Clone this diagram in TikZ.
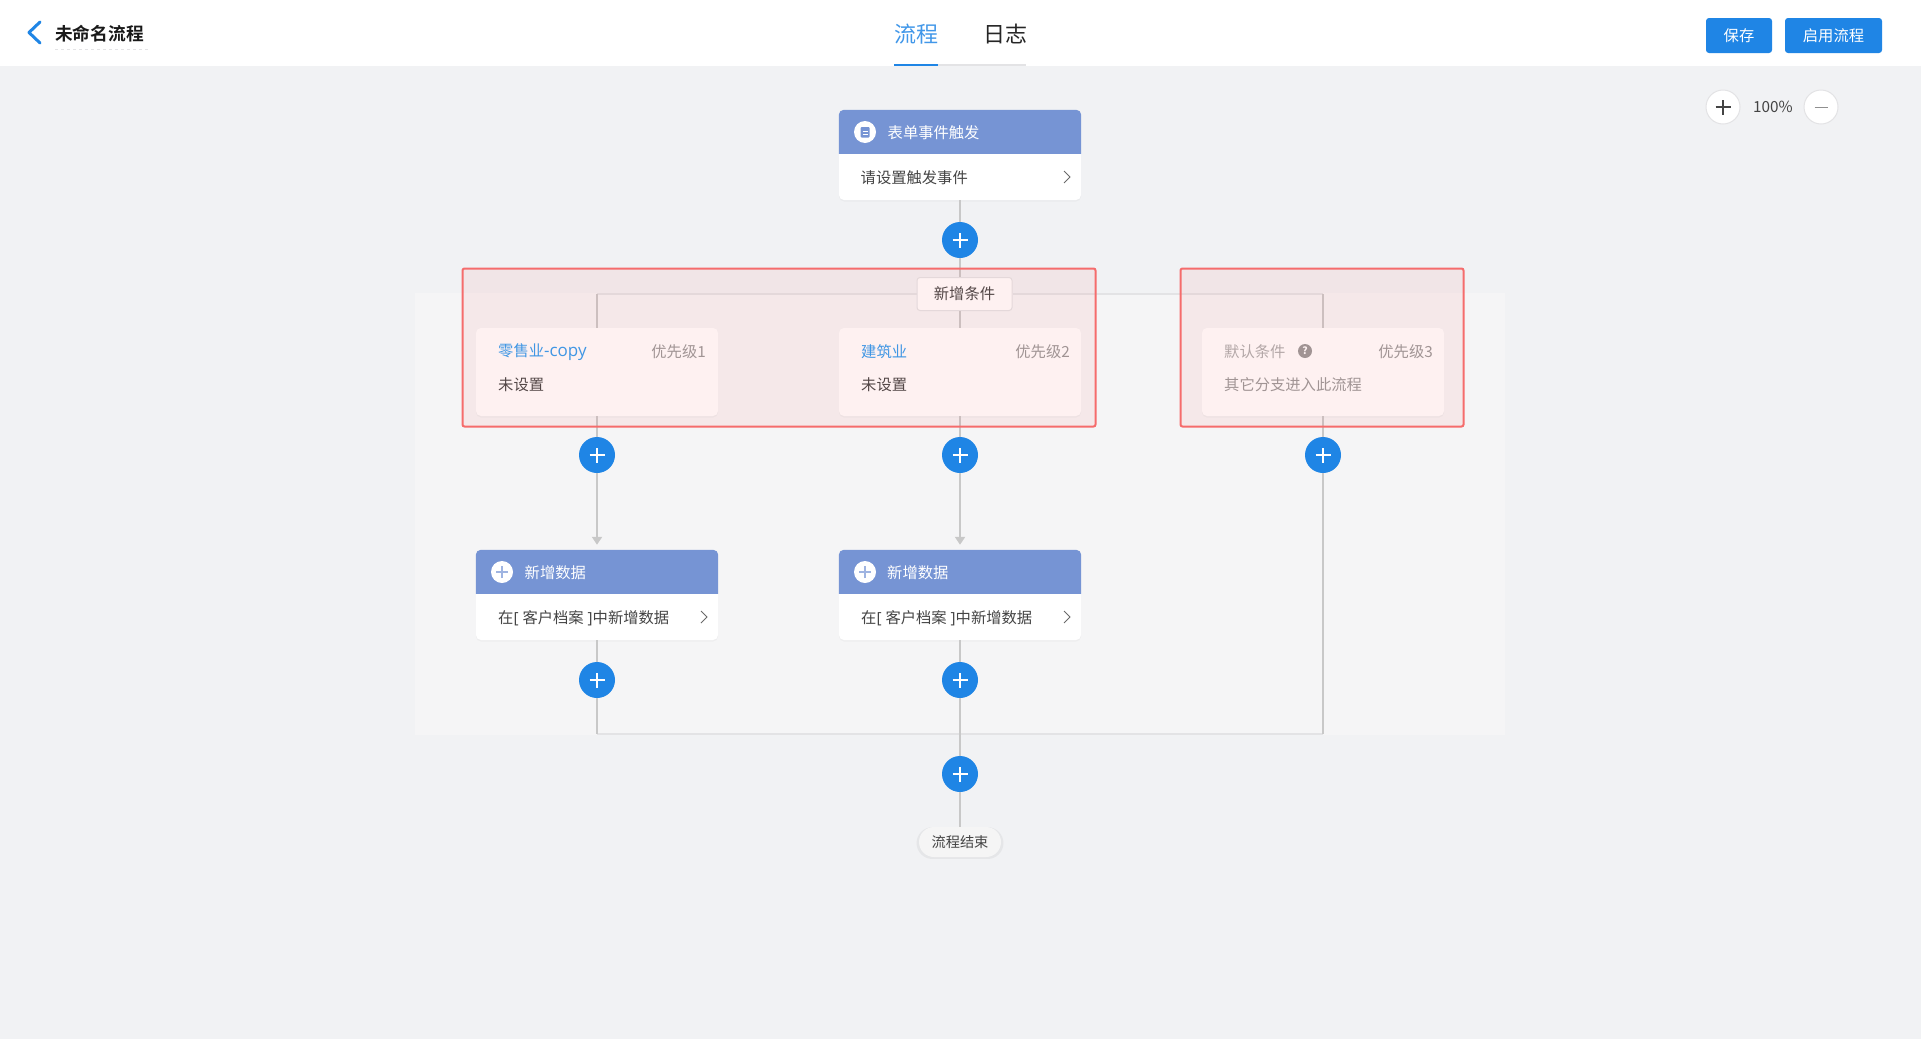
\documentclass[tikz,border=0pt]{standalone}
\usepackage{fontspec}
\setmainfont{Noto Sans CJK SC}
\newfontfamily\boldcjk[BoldFont={Noto Sans CJK SC Bold}]{Noto Sans CJK SC}
\newfontfamily\latinfont{Open Sans}
\usetikzlibrary{arrows.meta,shadows}
\definecolor{pagebg}{HTML}{F1F2F4}
\definecolor{panelbg}{HTML}{F5F5F6}
\definecolor{headblue}{HTML}{7694D4}
\definecolor{btnblue}{HTML}{1F85E5}
\definecolor{linkblue}{HTML}{2F9BF0}
\definecolor{linegray}{HTML}{C8C8C8}
\definecolor{lightline}{HTML}{E3E3E5}
\definecolor{warnred}{HTML}{F56C6C}
\definecolor{bodytext}{HTML}{444444}
\definecolor{greytext}{HTML}{999999}
\tikzset{
  smalltext/.style={font=\fontsize{15.3}{18}\selectfont,inner sep=0pt},
  flowline/.style={draw=linegray,line width=2pt},
  joinline/.style={draw=lightline,line width=2pt},
  actioncard/.style={fill=white,rounded corners=5pt,minimum width=242pt,minimum height=90pt,
    inner sep=0pt,drop shadow={opacity=0.06,shadow xshift=0pt,shadow yshift=-1.5pt}},
  condcard/.style={actioncard,minimum height=88pt},
  headtext/.style={smalltext,anchor=west,text=white},
  bodylabel/.style={smalltext,anchor=west,text=bodytext},
  greylabel/.style={smalltext,text=greytext},
  chevronline/.style={draw=bodytext!80,line width=1pt},
  crossmark/.style n args={3}{path picture={
    \draw[#1,line width=#3] ([xshift=-#2]path picture bounding box.center) -- ([xshift=#2]path picture bounding box.center);
    \draw[#1,line width=#3] ([yshift=-#2]path picture bounding box.center) -- ([yshift=#2]path picture bounding box.center);
  }},
  addbtn/.style={circle,fill=btnblue,minimum size=36pt,inner sep=0pt,crossmark={white}{7.5pt}{1.3pt}},
  headicon/.style={circle,fill=white,minimum size=22pt,inner sep=0pt},
  topbtn/.style={fill=btnblue,rounded corners=3pt,text=white,font=\fontsize{15.3}{18}\selectfont,
    minimum height=35pt,inner sep=0pt},
  zoomctl/.style={circle,fill=white,draw=lightline,line width=1pt,minimum size=34pt,inner sep=0pt},
  redmark/.style={draw=warnred,line width=2pt,fill=warnred,fill opacity=0.09,rounded corners=2pt,
    inner sep=0pt},
}
\begin{document}
\begin{tikzpicture}[x=1pt,y=-1pt]
  \useasboundingbox (0,0) rectangle (1921,1039);
  % page
  \fill[pagebg] (0,0) rectangle (1921,1039);
  \fill[white] (0,0) rectangle (1921,66);
  \fill[panelbg] (415,293) rectangle (1505,735);

  % top bar
  \draw[btnblue,line width=3pt,line cap=round,line join=round] (40,22) -- (29,32.5) -- (40,43);
  \node[anchor=west,inner sep=0pt,font=\fontsize{17.7}{20}\boldcjk\bfseries,text=black!90] (title) at (55,34) {未命名流程};
  \draw[lightline,line width=1pt,dashed] (55,49) -- (149,49);
  \node[inner sep=0pt,font=\fontsize{22}{26}\selectfont,text=btnblue!85!white] (tabflow) at (916,34) {流程};
  \node[inner sep=0pt,font=\fontsize{22}{26}\selectfont,text=black!85] (tablog) at (1005,34) {日志};
  \fill[lightline] (938,64) rectangle (1026,66);
  \fill[btnblue] (894,64) rectangle (938,66);
  \node[topbtn,minimum width=66pt] (savebtn) at (1739,35.5) {\raisebox{1pt}{保存}};
  \node[topbtn,minimum width=97pt] (startbtn) at (1833.5,35.5) {\raisebox{1pt}{启用流程}};
  \node[zoomctl,crossmark={bodytext}{7.5pt}{1.2pt}] (zoomin) at (1723,107) {};
  \node[inner sep=0pt,font=\fontsize{15.3}{18}\selectfont,text=bodytext] (zoomval) at (1773,107) {100\%};
  \node[zoomctl] (zoomout) at (1821,107) {};
  \draw[bodytext!60,line width=1pt] ([xshift=-6.5pt]zoomout.center) -- ([xshift=6.5pt]zoomout.center);

  % trigger
  \node[actioncard] (trigcard) at (960,155) {};
  \fill[headblue] (trigcard.north west) ++(0,44) [rounded corners=5pt] -- (trigcard.north west) -- (trigcard.north east) [sharp corners] -- ++(0,44) -- cycle;
  \node[headicon] (trigicon) at (865,132) {};
  \fill[headblue,rounded corners=1pt] (860.5,127) rectangle (869.5,137.5);
  \draw[white,line width=1pt] (862.5,131) -- (867.5,131) (862.5,134) -- (867.5,134);
  \node[headtext] (trighead) at (887.5,133) {表单事件触发};
  \node[bodylabel] (trigbody) at (860.5,177.5) {请设置触发事件};
  \draw[chevronline] (1064,171) -- (1070,177) -- (1064,183);
  \node[addbtn] (plustop) at (960,240) {};

  % branches
  \node[smalltext,fill=white,draw=lightline,line width=1pt,rounded corners=3pt,minimum width=95pt,minimum height=33pt,text=bodytext] (addcond) at (964.5,294) {新增条件};
  \node[condcard] (retail) at (597,372) {};
  \node[text=linkblue,smalltext,anchor=west] (retailname) at (498,352) {零售业{\latinfont\fontsize{17}{18}\selectfont -copy}};
  \node[greylabel,anchor=east] (retailprio) at (706,352) {优先级1};
  \node[bodylabel] (retailbody) at (498,385) {未设置};
  \node[condcard] (build) at (960,372) {};
  \node[text=linkblue,smalltext,anchor=west] (buildname) at (861,352) {建筑业};
  \node[greylabel,anchor=east] (buildprio) at (1070,352) {优先级2};
  \node[bodylabel] (buildbody) at (861,385) {未设置};
  \node[condcard] (default) at (1323,372) {};
  \node[greylabel,anchor=west,text=greytext!80] (defaultname) at (1224,352) {默认条件};
  \node[circle,fill=greytext,minimum size=14pt,inner sep=0pt,text=white,font=\fontsize{10}{10}\bfseries\selectfont] (defaulthelp) at (1305,351) {?};
  \node[greylabel,anchor=east] (defaultprio) at (1433,352) {优先级3};
  \node[greylabel,anchor=west] (defaultbody) at (1224,385) {其它分支进入此流程};
  \node[addbtn] (plusa) at (597,455) {};
  \node[addbtn] (plusb) at (960,455) {};
  \node[addbtn] (plusc) at (1323,455) {};

  % new data
  \node[actioncard] (newa) at (597,595) {};
  \fill[headblue] (newa.north west) ++(0,44) [rounded corners=5pt] -- (newa.north west) -- (newa.north east) [sharp corners] -- ++(0,44) -- cycle;
  \node[headicon,crossmark={headblue!70!white}{6pt}{1.2pt}] (newaicon) at (502,572) {};
  \node[headtext] (newahead) at (524.5,572.5) {新增数据};
  \node[bodylabel] (newabody) at (498,618) {在{\latinfont [ }客户档案{\latinfont \ ]}中新增数据};
  \draw[chevronline] (701,611) -- (707,617) -- (701,623);
  \node[actioncard] (newb) at (960,595) {};
  \fill[headblue] (newb.north west) ++(0,44) [rounded corners=5pt] -- (newb.north west) -- (newb.north east) [sharp corners] -- ++(0,44) -- cycle;
  \node[headicon,crossmark={headblue!70!white}{6pt}{1.2pt}] (newbicon) at (865,572) {};
  \node[headtext] (newbhead) at (887,572.5) {新增数据};
  \node[bodylabel] (newbbody) at (861,618) {在{\latinfont [ }客户档案{\latinfont \ ]}中新增数据};
  \draw[chevronline] (1064,611) -- (1070,617) -- (1064,623);
  \node[addbtn] (plusd) at (597,680) {};
  \node[addbtn] (pluse) at (960,680) {};
  \node[addbtn] (plusend) at (960,774) {};
  \node[fill=black!4,rounded corners=15pt,minimum width=82pt,minimum height=30pt,inner sep=0pt,
    drop shadow={opacity=0.1,shadow xshift=0pt,shadow yshift=-1pt,shadow scale=1.06},text=bodytext,font=\fontsize{14.2}{16}\selectfont] (flowend) at (960,842) {流程结束};

  % connectors
  \coordinate (joinleft) at (597,294);
  \coordinate (joinright) at (1323,294);
  \coordinate (mergeleft) at (597,734);
  \coordinate (mergeright) at (1323,734);
  \draw[joinline] (joinleft) -- (addcond);
  \draw[joinline] (addcond) -- (joinright);
  \draw[joinline] (mergeleft) -- (mergeright);
  \draw[flowline] (trigcard) -- (plustop);
  \draw[flowline] (plustop) -- (plustop |- addcond.north);
  \draw[flowline] (build |- addcond.south) -- (build.north);
  \draw[flowline] (joinleft) -- (retail.north);
  \draw[flowline] (joinright) -- (default.north);
  \draw[flowline] (retail) -- (plusa);
  \draw[flowline] (build) -- (plusb);
  \draw[flowline] (default) -- (plusc);
  \draw[flowline,shorten >=5pt,-{Triangle[width=10pt,length=8pt]}] (plusa) -- (newa.north);
  \draw[flowline,shorten >=5pt,-{Triangle[width=10pt,length=8pt]}] (plusb) -- (newb.north);
  \draw[flowline] (plusc) -- (mergeright);
  \draw[flowline] (newa) -- (plusd);
  \draw[flowline] (plusd) -- (mergeleft);
  \draw[flowline] (newb) -- (pluse);
  \draw[flowline] (pluse) -- (plusend);
  \draw[flowline] (plusend) -- (flowend);

  % red marks
  \node[redmark,minimum width=633pt,minimum height=158pt] (markleft) at (779,347.5) {};
  \node[redmark,minimum width=283pt,minimum height=158pt] (markright) at (1322,347.5) {};
\end{tikzpicture}
\end{document}
